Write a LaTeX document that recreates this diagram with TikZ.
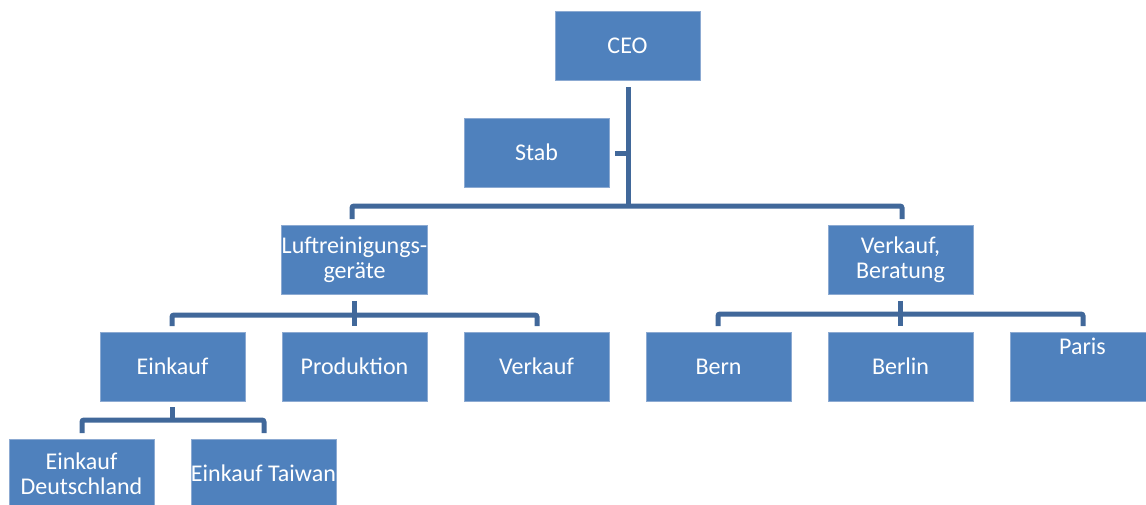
\documentclass[tikz,border=0pt]{standalone}
\usepackage{fontspec}
\setmainfont{Carlito}
\definecolor{boxfill}{RGB}{79,129,189}
\definecolor{boxedge}{RGB}{140,170,210}
\definecolor{linecol}{RGB}{65,104,154}
\begin{document}
\begin{tikzpicture}[x=1pt,y=-1pt,
  box/.style={rectangle, fill=boxfill, draw=boxedge, line width=0.6pt,
    minimum width=145pt, minimum height=69pt, inner sep=0pt,
    text=white, align=center, font=\fontsize{24}{25}\selectfont},
  conn/.style={draw=linecol, line width=5pt, rounded corners=2pt}]
\path[use as bounding box] (0,0) rectangle (1146,504);
\clip (0,0) rectangle (1146,504);
\fill[white] (0,0) rectangle (1146,504);

\node[box] (ceo) at (627.5,46) {CEO};
\node[box] (stab) at (536.5,152.5) {Stab};
\node[box] (luft) at (354.5,260) {Luftreinigungs-\\geräte};
\node[box] (vb) at (900.5,260) {Verkauf,\\Beratung};
\node[box] (ein) at (172.5,366.5) {Einkauf};
\node[box] (prod) at (354.5,366.5) {Produktion};
\node[box] (verk) at (536.5,366.5) {Verkauf};
\node[box] (bern) at (718.5,366.5) {Bern};
\node[box] (berlin) at (900.5,366.5) {Berlin};
\node[box, text height=11pt, text depth=36pt] (paris) at (1082.5,366.5) {Paris};
\node[box] (ed) at (81.5,473.5) {Einkauf\\Deutschland};
\node[box] (et) at (263.5,473.5) {Einkauf Taiwan};

% CEO level
\coordinate (j0) at (628,206);
\coordinate (s0) at (628,153);
\draw[conn] (628,87) -- (j0);
\draw[conn] ([xshift=6pt]stab.east |- s0) -- (s0);
\draw[conn] (352,219) -- (352,206) -- (902,206) -- (902,219);

% Luftreinigungsgeraete
\coordinate (j1) at (354.5,315);
\draw[conn] ([yshift=-6pt]luft.south) -- (j1);
\draw[conn] (172,326) -- (172,315) -- (537,315) -- (537,326);
\draw[conn] (j1) -- ([yshift=6pt]prod.north);

% Verkauf, Beratung
\coordinate (j2) at (900.5,314);
\draw[conn] ([yshift=-6pt]vb.south) -- (j2);
\draw[conn] (718,326) -- (718,314) -- (1083,314) -- (1083,326);
\draw[conn] (j2) -- ([yshift=6pt]berlin.north);

% Einkauf
\coordinate (j3) at (172.5,420);
\draw[conn] ([yshift=-6pt]ein.south) -- (j3);
\draw[conn] (82,433) -- (82,420) -- (264,420) -- (264,433);
\end{tikzpicture}
\end{document}
